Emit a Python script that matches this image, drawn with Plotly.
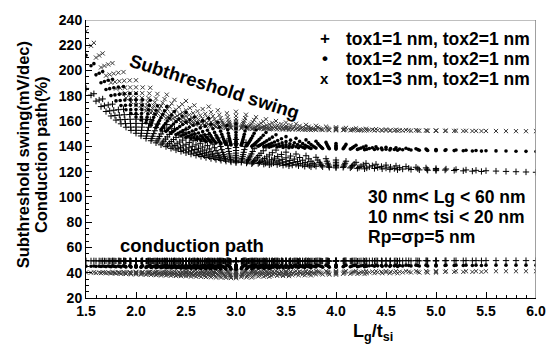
import numpy as np
import plotly.graph_objects as go

# Design grid given on the chart: 30 nm < Lg < 60 nm, 10 nm < tsi < 20 nm
lg_nm = [30, 31, 32, 33, 34, 35, 36, 37, 38, 39, 40, 41, 42, 43, 44, 45,
         46, 47, 48, 49, 50, 51, 52, 53, 54, 55, 56, 57, 58, 59, 60]
tsi_nm = [10, 11, 12, 13, 14, 15, 16, 17, 18, 19, 20]

series_labels = ["tox1=1 nm, tox2=1 nm", "tox1=2 nm, tox2=1 nm", "tox1=3 nm, tox2=1 nm"]
legend_glyphs = ["+", "•", "x"]

# Subthreshold swing: long-channel floor (mV/dec),
# short-channel gain and roll-off rate vs Lg/sqrt(tsi)
ss_floor = [116.8, 135.15, 151.85]
ss_gain = [1.715, 3.386, 8.02]
ss_rate = [0.228, 0.333, 0.47]

# Conduction path (%)
cp_level = [49.6, 46.0, 41.2]
cp_tsi_drop = [0.2, 0.8, 1.0]
cp_corner_drop = [0.8, 2.5, 4.5]

x_ticks = [1.5, 2.0, 2.5, 3.0, 3.5, 4.0, 4.5, 5.0, 5.5, 6.0]
y_ticks = [20, 40, 60, 80, 100, 120, 140, 160, 180, 200, 220, 240]

LG, TSI = np.meshgrid(np.array(lg_nm, float), np.array(tsi_nm, float))
ratio = (LG / TSI).ravel()
u = (LG / np.sqrt(TSI)).ravel()
lg_f = ((LG - 30) / 30).ravel()
t_f = ((TSI - 10) / 10).ravel()

marker_styles = [
    dict(symbol="cross-thin", size=4.5, color="black", line=dict(width=1, color="black")),
    dict(symbol="circle", size=3.6, color="black", line=dict(width=0)),
    dict(symbol="x-thin", size=4.2, color="#3a3a3a", line=dict(width=1, color="#3a3a3a")),
]

fig = go.Figure()
draw_order = [2, 0, 1]
for i in draw_order:
    ss = ss_floor[i] / (1 - ss_gain[i] * np.exp(-ss_rate[i] * u))
    cp = cp_level[i] - cp_tsi_drop[i] * t_f - cp_corner_drop[i] * lg_f * t_f
    fig.add_trace(go.Scatter(x=ratio, y=ss, mode="markers", marker=marker_styles[i],
                             name=series_labels[i], showlegend=False, hoverinfo="skip"))
    fig.add_trace(go.Scatter(x=ratio, y=cp, mode="markers", marker=marker_styles[i],
                             name=series_labels[i], showlegend=False, hoverinfo="skip"))

font_family = "Arial, Liberation Sans, sans-serif"
axis_common = dict(showline=True, linecolor="black", linewidth=1, mirror=False,
                   showgrid=False, zeroline=False, ticks="inside", ticklen=6,
                   tickcolor="black", tickwidth=1,
                   tickfont=dict(family=font_family, size=14, color="black", weight="bold"))

fig.update_layout(
    width=558, height=345,
    margin=dict(l=86, r=16, t=19, b=47),
    plot_bgcolor="white", paper_bgcolor="white",
    font=dict(family=font_family, color="black"),
    showlegend=False,
    xaxis=dict(range=[1.5, 6.0], tickvals=x_ticks, tickformat=".1f",
               minor=dict(dtick=0.1, ticks="inside", ticklen=3, tickcolor="black"),
               **axis_common),
    yaxis=dict(range=[20, 240], tickvals=y_ticks,
               minor=dict(dtick=5, ticks="inside", ticklen=3, tickcolor="black"),
               **axis_common),
    shapes=[
        dict(type="line", xref="x", yref="y", x0=1.5, x1=6.0, y0=240, y1=240,
             line=dict(color="#808080", width=1.2)),
        dict(type="line", xref="x", yref="y", x0=6.0, x1=6.0, y0=20, y1=240,
             line=dict(color="#808080", width=1.5)),
    ],
)

def px_x(px):
    return (px - 86) / 456.0

def px_y(py):
    return 1 - (py - 19) / 279.0

bold = dict(family=font_family, color="black", weight="bold")
annotations = [
    dict(text="Subthreshold swing(mV/dec)", x=px_x(22), y=px_y(154),
         textangle=-90, font=dict(size=16.5, **bold)),
    dict(text="Conduction path(%)", x=px_x(40), y=px_y(154),
         textangle=-90, font=dict(size=16.5, **bold)),
    dict(text="L<sub>g</sub>/t<sub>si</sub>", x=px_x(377), y=px_y(333),
         font=dict(size=18, **bold)),
    dict(text="Subthreshold swing", x=px_x(216), y=px_y(86), textangle=17.5,
         font=dict(size=18.5, **bold)),
    dict(text="conduction path", x=px_x(193), y=px_y(245),
         font=dict(size=18.5, **bold)),
    dict(text="30 nm< Lg < 60 nm", x=px_x(370), y=px_y(197), xanchor="left",
         font=dict(size=17.5, **bold)),
    dict(text="10 nm< tsi < 20 nm", x=px_x(370), y=px_y(217), xanchor="left",
         font=dict(size=17.5, **bold)),
    dict(text="Rp=σp=5 nm", x=px_x(370), y=px_y(237), xanchor="left",
         font=dict(size=17.5, **bold)),
]
legend_rows = [38, 58, 78]
for i in range(3):
    annotations.append(dict(text=legend_glyphs[i], x=px_x(328), y=px_y(legend_rows[i]),
                            font=dict(size=17 if i != 2 else 15, **bold)))
    annotations.append(dict(text=series_labels[i], x=px_x(347), y=px_y(legend_rows[i]),
                            xanchor="left", font=dict(size=17.5, **bold)))
for a in annotations:
    a.setdefault("xanchor", "center")
    a.update(xref="paper", yref="paper", yanchor="middle", showarrow=False)
fig.update_layout(annotations=annotations)

fig.write_html("out.html")
